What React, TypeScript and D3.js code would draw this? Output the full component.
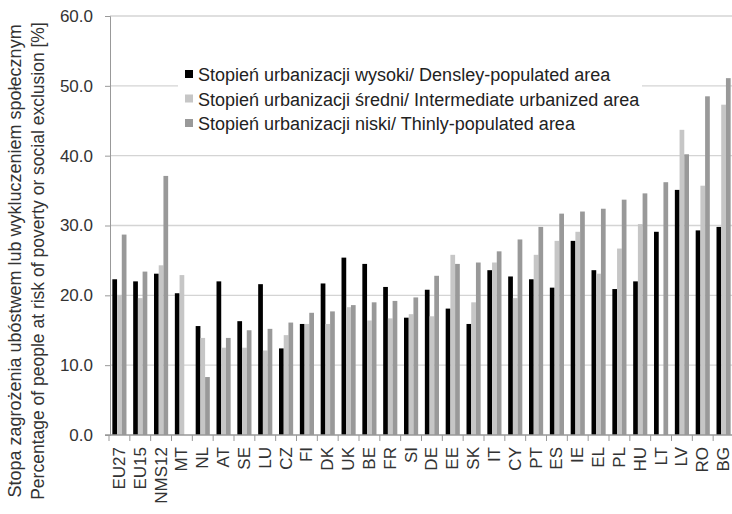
import React, { useEffect, useRef } from 'react'
import * as d3 from 'd3'

// categories on the x axis
const countries = ['EU27', 'EU15', 'NMS12', 'MT', 'NL', 'AT', 'SE', 'LU', 'CZ', 'FI',
    'DK', 'UK', 'BE', 'FR', 'SI', 'DE', 'EE', 'SK', 'IT', 'CY',
    'PT', 'ES', 'IE', 'EL', 'PL', 'HU', 'LT', 'LV', 'RO', 'BG']

// densely populated
const dense = [22.3, 22.0, 23.1, 20.3, 15.6, 22.0, 16.3, 21.6, 12.4, 15.9,
    21.7, 25.4, 24.5, 21.2, 16.8, 20.8, 18.1, 15.9, 23.6, 22.7,
    22.3, 21.1, 27.8, 23.6, 20.9, 22.0, 29.1, 35.1, 29.3, 29.8]

// intermediate
const intermediate = [20.0, 19.6, 24.3, 22.9, 13.9, 12.5, 12.5, 12.1, 14.3, 15.9,
    15.9, 18.3, 16.4, 16.7, 17.3, 17.0, 25.8, 19.0, 24.7, 19.6,
    25.8, 27.8, 29.1, 23.1, 26.7, 30.2, null, 43.7, 35.7, 47.3]

// thinly populated
const thin = [28.7, 23.4, 37.1, null, 8.3, 13.9, 15.0, 15.2, 16.1, 17.5,
    17.7, 18.6, 19.0, 19.2, 19.7, 22.8, 24.5, 24.7, 26.3, 28.0,
    29.8, 31.7, 32.0, 32.4, 33.7, 34.6, 36.2, 40.2, 48.5, 51.1]

const seriesNames = [
    'Stopień urbanizacji wysoki/ Densley-populated area',
    'Stopień urbanizacji średni/ Intermediate urbanized area',
    'Stopień urbanizacji niski/ Thinly-populated area',
]
const seriesColors = ['#000000', '#c6c6c6', '#999999']

const yTicks = [0, 10, 20, 30, 40, 50, 60]

const yTitle = [
    'Stopa zagrożenia ubóstwem lub wykluczeniem społecznym',
    'Percentage of people at risk of poverty or social exclusion [%]',
]

export default function App() {

    const d3Ref = useRef<SVGSVGElement>(null)

    useEffect(() => {
        const width = 732
        const height = 514
        const font = '"Liberation Sans", Arial, sans-serif'

        const svg = d3.select(d3Ref.current!)
        svg.selectAll('*').remove()
        svg.attr('width', width).attr('height', height)
            .style('font-family', font)

        const x = d3.scaleBand<string>()
            .domain(countries)
            .range([109, 734])
            .paddingInner(0)
            .paddingOuter(0)

        const x1 = d3.scaleBand<number>()
            .domain([0, 1, 2])
            .range([0, x.bandwidth()])
            .paddingInner(0)
            .paddingOuter(0.71)

        const y = d3.scaleLinear()
            .domain([0, 60])
            .range([435, 16])

        // gridlines
        svg.append('g')
            .selectAll('line')
            .data(yTicks.filter(t => t > 0))
            .join('line')
            .attr('x1', 110)
            .attr('x2', width)
            .attr('y1', d => y(d))
            .attr('y2', d => y(d))
            .attr('stroke', '#d4d4d4')
            .attr('stroke-width', 1.3)

        // y axis
        const yAxis = svg.append('g')
            .attr('transform', 'translate(110,0)')
            .call(d3.axisLeft(y).tickValues(yTicks).tickSize(5).tickFormat(d => d3.format('.1f')(d as number)))
        yAxis.select('.domain').attr('stroke', '#999')
        yAxis.selectAll('.tick line').attr('stroke', '#999')
        yAxis.selectAll('.tick text')
            .attr('x', -17)
            .attr('fill', '#333')
            .style('font-size', '17px')
            .style('font-family', font)

        // y title
        svg.append('g')
            .selectAll('text')
            .data(yTitle)
            .join('text')
            .attr('transform', (d, i) => `translate(${21 + i * 23},261) rotate(-90)`)
            .attr('text-anchor', 'middle')
            .attr('fill', '#333')
            .style('font-size', (d, i) => i === 0 ? '18px' : '17.5px')
            .text(d => d)

        // bars
        const allSeries = [dense, intermediate, thin]
        allSeries.forEach((values, s) => {
            svg.append('g')
                .selectAll('rect')
                .data(countries.map((c, i) => ({ c, v: values[i] })).filter(d => d.v !== null))
                .join('rect')
                .attr('x', d => x(d.c)! + x1(s)!)
                .attr('width', x1.bandwidth())
                .attr('y', d => y(d.v as number))
                .attr('height', d => y(0) - y(d.v as number))
                .attr('fill', seriesColors[s])
        })

        // x axis
        const xAxis = svg.append('g')
            .attr('transform', 'translate(0,435)')
        xAxis.append('line')
            .attr('x1', 105).attr('x2', width)
            .attr('stroke', '#999')
            .attr('stroke-width', 1.3)
        xAxis.selectAll('line.tk')
            .data(countries)
            .join('line')
            .attr('class', 'tk')
            .attr('x1', d => x(d)!)
            .attr('x2', d => x(d)!)
            .attr('y1', 0)
            .attr('y2', 6)
            .attr('stroke', '#999')
        xAxis.selectAll('text')
            .data(countries)
            .join('text')
            .attr('transform', d => `translate(${x(d)! + x.bandwidth() / 2 + 5.5},12) rotate(-90)`)
            .attr('text-anchor', 'end')
            .attr('fill', '#333')
            .style('font-size', '17px')
            .text(d => d)

        // legend
        const legend = svg.append('g')
        legend.append('rect')
            .attr('x', 178).attr('y', 60)
            .attr('width', 464).attr('height', 78)
            .attr('fill', '#fff')
        seriesNames.forEach((name, i) => {
            const cy = 74 + i * 24.5
            legend.append('rect')
                .attr('x', 185).attr('y', cy - 4)
                .attr('width', 8).attr('height', 8)
                .attr('fill', seriesColors[i])
            legend.append('text')
                .attr('x', 198).attr('y', cy + 7)
                .attr('fill', '#222')
                .style('font-size', '18px')
                .text(name)
        })
    }, [])

    return (
        <div style={{ position: 'absolute', left: 0, top: 0 }}>
            <svg ref={d3Ref}></svg>
        </div>
    )
}
